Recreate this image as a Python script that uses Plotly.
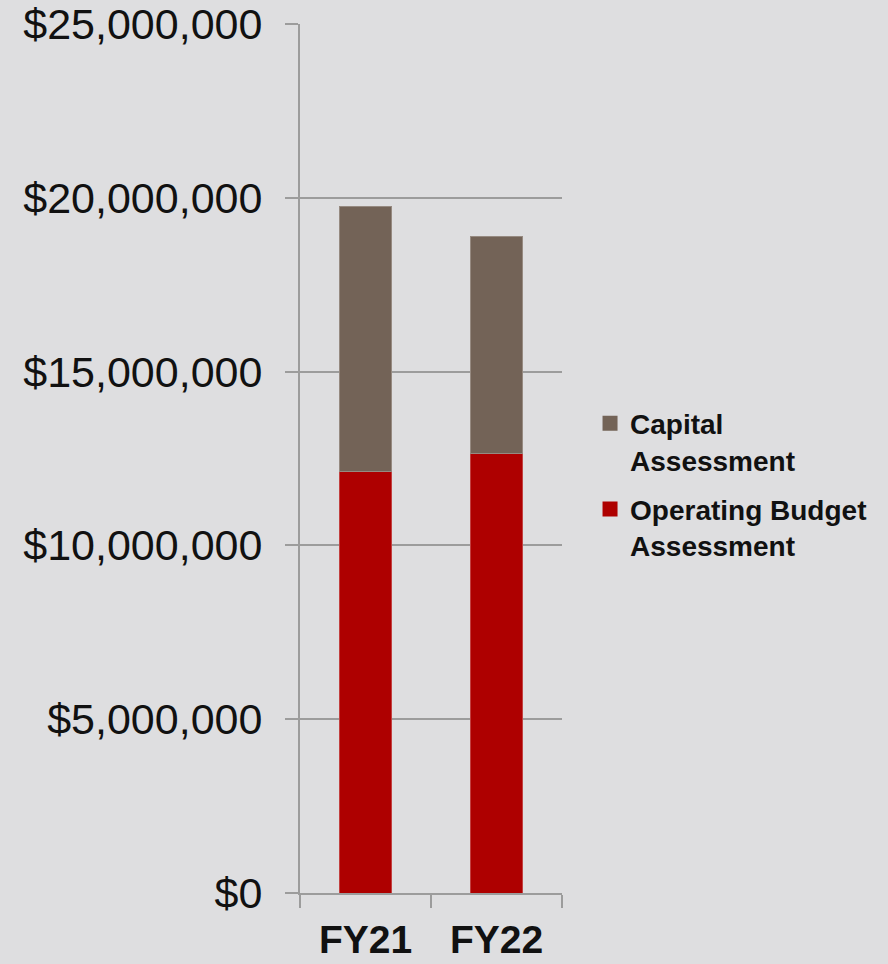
import plotly.graph_objects as go

# Assessment totals by fiscal year
years = ["FY21", "FY22"]
operating = [12120000, 12630000]
capital = [7630000, 6270000]

series_names = ["Operating Budget<br>Assessment", "Capital<br>Assessment"]
series_colors = ["#AE0000", "#736357"]
legend_ranks = [2, 1]
y_ticks = [0, 5000000, 10000000, 15000000, 20000000, 25000000]
y_tick_text = ["$0", "$5,000,000", "$10,000,000", "$15,000,000", "$20,000,000", "$25,000,000"]

BG = "#DEDEE0"
GRID = "#9C9C9C"
FONT = "Liberation Sans, Arial, sans-serif"

fig = go.Figure()
for vals, name, color, rank in zip([operating, capital], series_names, series_colors, legend_ranks):
    fig.add_trace(go.Bar(
        x=years, y=vals, name=name, showlegend=False,
        marker=dict(color=color, line=dict(color="rgba(255,255,255,0.25)", width=1)),
    ))
    # square legend swatch for the series
    fig.add_trace(go.Scatter(
        x=[None], y=[None], mode="markers", name=name, legendgroup=name,
        legendrank=rank,
        marker=dict(symbol="square", size=15, color=color),
    ))

fig.update_layout(
    width=888, height=964,
    margin=dict(l=300, r=326, t=24, b=71, autoexpand=False),
    paper_bgcolor=BG, plot_bgcolor=BG,
    barmode="stack", bargap=0.6,
    font=dict(family=FONT, color="#111111"),
    legend=dict(
        x=1.107, xanchor="left", y=0.47, yanchor="middle",
        traceorder="grouped", valign="top",
        font=dict(size=28, family=FONT, weight="bold"),
        tracegroupgap=10,
    ),
    xaxis=dict(
        showline=True, linecolor=GRID, linewidth=2,
        ticks="outside", tickson="boundaries", ticklen=13, tickcolor=GRID, tickwidth=2,
        tickfont=dict(size=39, weight="bold"),
        ticklabelstandoff=11,
        showgrid=False, automargin=False,
    ),
    yaxis=dict(
        range=[0, 25000000], tickvals=y_ticks, ticktext=y_tick_text,
        showline=True, linecolor=GRID, linewidth=2,
        ticks="outside", ticklen=13, tickcolor=GRID, tickwidth=2,
        showgrid=True, gridcolor=GRID, gridwidth=2,
        tickfont=dict(size=43),
        ticklabelstandoff=14,
        zeroline=False, automargin=False,
    ),
)

fig.write_html("out.html")
